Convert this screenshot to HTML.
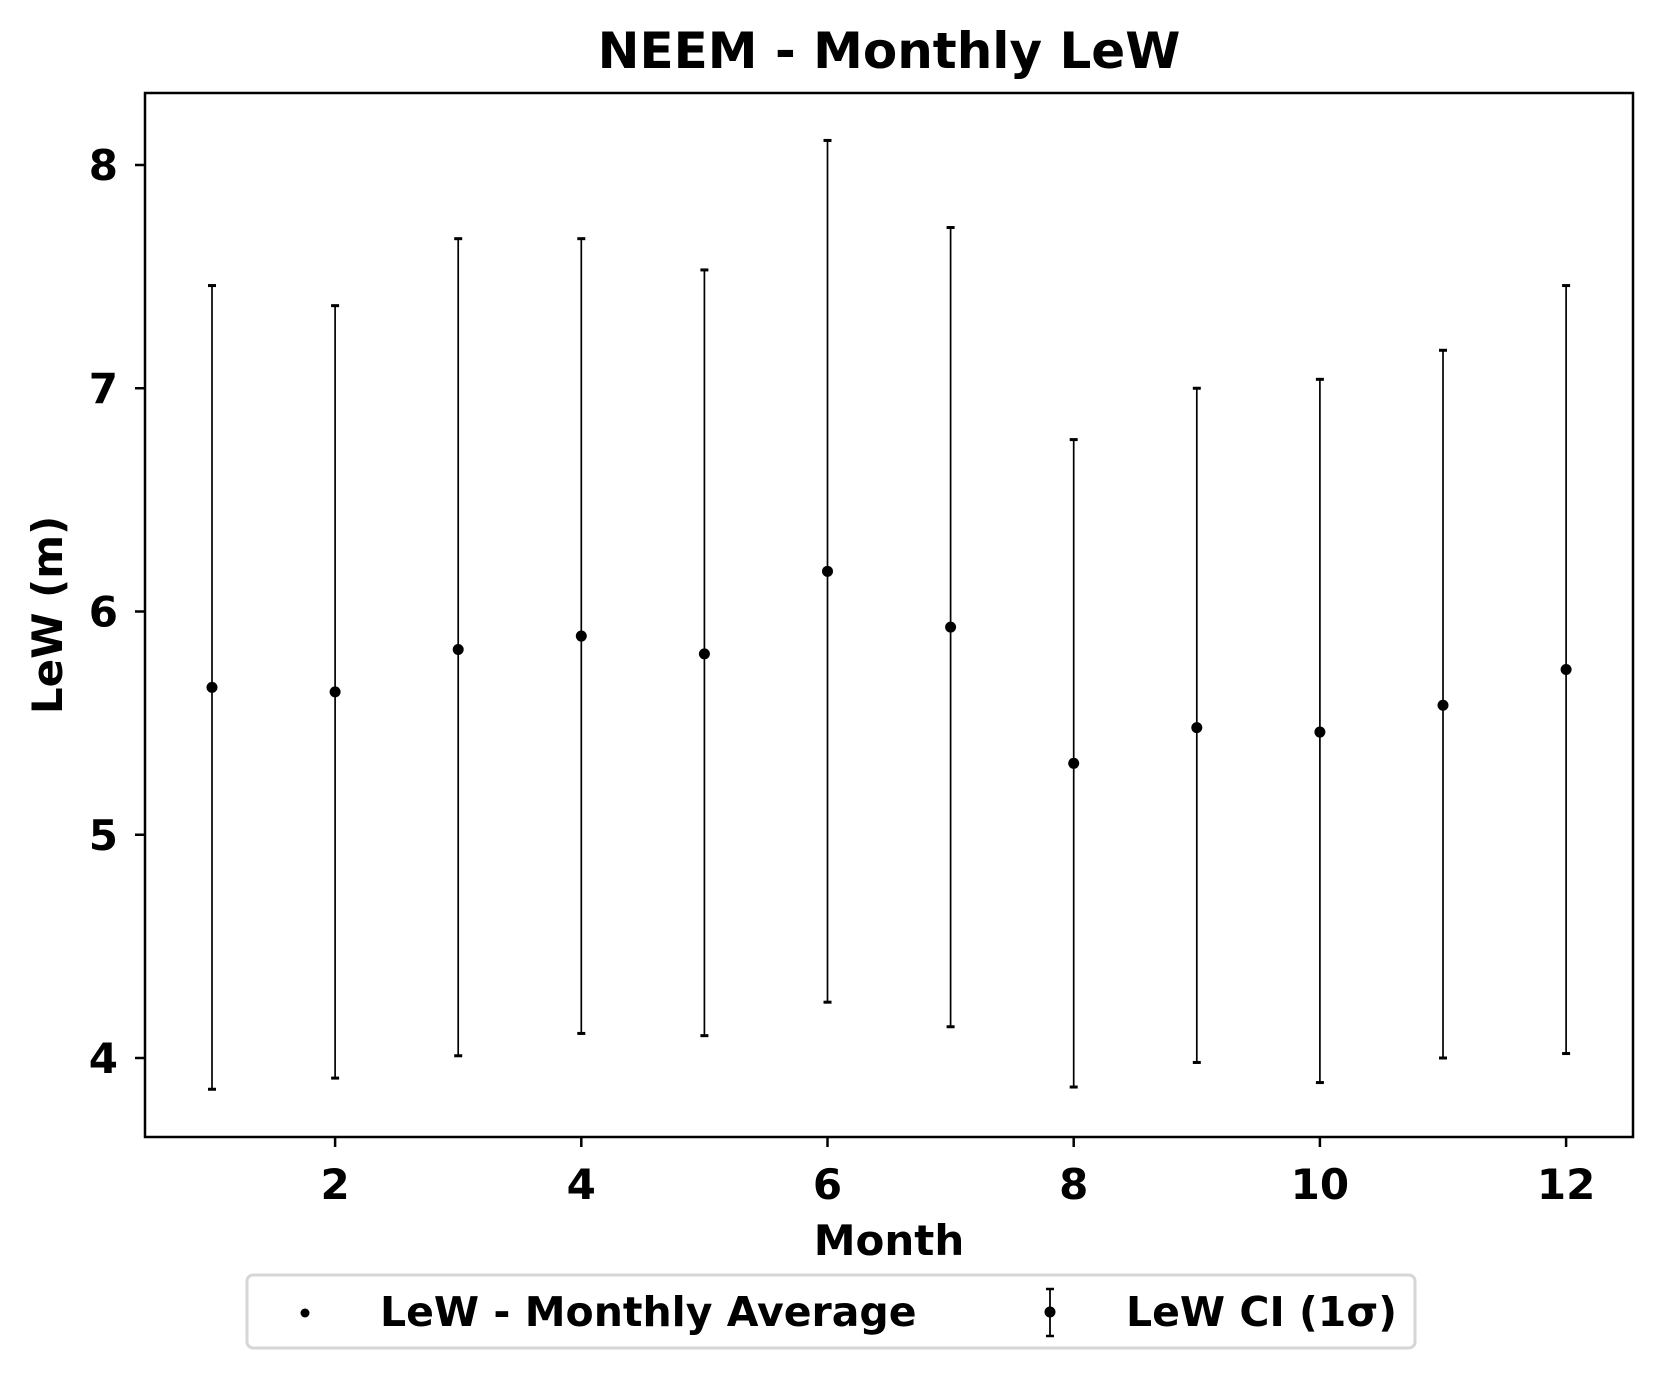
<!DOCTYPE html>
<html><head><meta charset="utf-8"><style>
html,body{margin:0;padding:0;background:#fff}
svg text{font-family:"DejaVu Sans","Liberation Sans",sans-serif;font-weight:bold;fill:#000}
</style></head><body>
<svg id="chart" width="1662" height="1369" xmlns="http://www.w3.org/2000/svg">
<text x="889" y="68" font-size="50" text-anchor="middle">NEEM - Monthly LeW</text>
<rect x="145" y="93" width="1488" height="1044" fill="none" stroke="#000" stroke-width="2.5"/>
<g id="xticks"></g>
<g id="yticks"></g>
<g id="marks"></g>
<text x="889" y="1255" font-size="42" text-anchor="middle">Month</text>
<text transform="translate(62,615) rotate(-90)" font-size="42" text-anchor="middle">LeW (m)</text>
<g>
<rect x="247" y="1275" width="1168" height="73" rx="6" fill="#fff" stroke="#d6d6d6" stroke-width="3"/>
<circle cx="305" cy="1313" r="4.5" fill="#000"/>
<text x="380" y="1326" font-size="41">LeW - Monthly Average</text>
<line x1="1050" y1="1289" x2="1050" y2="1336" stroke="#000" stroke-width="1.8"/>
<line x1="1046" y1="1289" x2="1054" y2="1289" stroke="#000" stroke-width="2.5"/>
<line x1="1046" y1="1336" x2="1054" y2="1336" stroke="#000" stroke-width="2.5"/>
<circle cx="1050" cy="1312" r="5.5" fill="#000"/>
<text x="1126" y="1326" font-size="41">LeW CI (1σ)</text>
</g>
</svg>
<script>
const months=[1,2,3,4,5,6,7,8,9,10,11,12];
const means=[5.66,5.64,5.83,5.89,5.81,6.18,5.93,5.32,5.48,5.46,5.58,5.74];
const upper=[7.46,7.37,7.67,7.67,7.53,8.11,7.72,6.77,7.00,7.04,7.17,7.46];
const lower=[3.86,3.91,4.01,4.11,4.10,4.25,4.14,3.87,3.98,3.89,4.00,4.02];
const xTicks=[2,4,6,8,10,12];
const yTicks=[4,5,6,7,8];
const NS="http://www.w3.org/2000/svg";
const X=v=>212+(v-1)*123.1;
const Y=v=>165+(8-v)*223.25;
function mk(tag,attrs,parent){const e=document.createElementNS(NS,tag);for(const k in attrs)e.setAttribute(k,attrs[k]);parent.appendChild(e);return e;}
const xg=document.getElementById('xticks'),yg=document.getElementById('yticks'),mg=document.getElementById('marks');
xTicks.forEach(t=>{
 const l=mk('line',{x1:X(t),x2:X(t),y1:1137,y2:1147,stroke:'#000','stroke-width':2.5},xg);
 
 
 const tx=mk('text',{x:X(t),y:1199,'font-size':42,'text-anchor':'middle'},xg);tx.textContent=t;
 
 
});
yTicks.forEach(t=>{
 const l=mk('line',{x1:135,x2:145,y1:Y(t),y2:Y(t),stroke:'#000','stroke-width':2.5},yg);
 
 
 const tx=mk('text',{x:118,y:Y(t)+15,'font-size':42,'text-anchor':'end'},yg);tx.textContent=t;
 
 
});
months.forEach((m,i)=>{
 const g=mk('g',{},mg);
 
 
 mk('line',{x1:X(m),x2:X(m),y1:Y(upper[i]),y2:Y(lower[i]),stroke:'#000','stroke-width':1.7},g);
 mk('line',{x1:X(m)-4,x2:X(m)+4,y1:Y(upper[i]),y2:Y(upper[i]),stroke:'#000','stroke-width':3},g);
 mk('line',{x1:X(m)-4,x2:X(m)+4,y1:Y(lower[i]),y2:Y(lower[i]),stroke:'#000','stroke-width':3},g);
 const c=mk('circle',{cx:X(m),cy:Y(means[i]),r:5.5,fill:'#000'},mg);
 
 
});
</script>
</body></html>
